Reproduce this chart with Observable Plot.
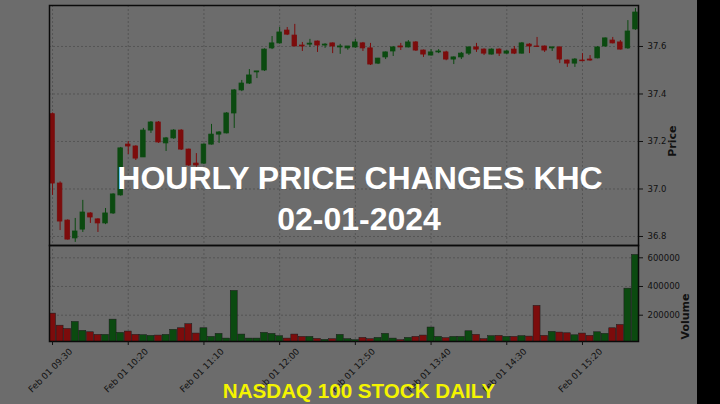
<!DOCTYPE html>
<html>
<head>
<meta charset="utf-8">
<script src="https://cdn.jsdelivr.net/npm/d3@7"></script>
<script src="https://cdn.jsdelivr.net/npm/@observablehq/plot@0.6"></script>
<style>
  html, body { margin: 0; padding: 0; background: #6c6c6c; }
  #wrap { position: relative; width: 720px; height: 404px; overflow: hidden; background: #6c6c6c; }
  #strip { position: absolute; left: 697px; top: 0; width: 23px; height: 404px; background: #000; }
</style>
</head>
<body>
<div id="wrap"></div>
<script>
// ---- data (5-minute candles, KHC, Feb 01 2024, 09:30 .. 15:55) ----
const opens  = [37.315,37.023,36.867,36.792,36.829,36.897,36.872,36.855,36.897,36.973,
                37.187,37.179,37.133,37.246,37.280,37.192,37.213,37.246,37.166,37.107,
                37.107,37.187,37.229,37.234,37.318,37.415,37.444,37.491,37.499,37.592,
                37.613,37.667,37.646,37.604,37.608,37.621,37.604,37.613,37.596,37.592,
                37.596,37.613,37.592,37.528,37.554,37.579,37.600,37.596,37.617,37.583,
                37.562,37.575,37.575,37.545,37.554,37.570,37.596,37.587,37.566,37.587,
                37.570,37.587,37.570,37.608,37.600,37.600,37.592,37.596,37.541,37.528,
                37.541,37.545,37.550,37.600,37.625,37.617,37.592,37.672];
const highs  = [37.320,37.030,36.870,36.876,36.952,36.900,36.875,36.918,36.980,37.175,
                37.200,37.182,37.255,37.284,37.284,37.217,37.250,37.250,37.168,37.149,
                37.190,37.272,37.242,37.322,37.419,37.457,37.503,37.495,37.590,37.642,
                37.680,37.680,37.693,37.617,37.630,37.623,37.612,37.615,37.609,37.600,
                37.630,37.617,37.613,37.550,37.577,37.600,37.613,37.625,37.621,37.585,
                37.587,37.587,37.580,37.556,37.575,37.598,37.613,37.590,37.590,37.590,
                37.583,37.600,37.617,37.612,37.638,37.602,37.598,37.598,37.543,37.549,
                37.570,37.562,37.600,37.636,37.638,37.625,37.709,37.760];
const lows   = [36.973,36.825,36.785,36.775,36.817,36.855,36.817,36.850,36.893,36.970,
                37.145,37.120,37.133,37.234,37.192,37.158,37.209,37.162,37.095,37.091,
                37.103,37.185,37.192,37.232,37.255,37.410,37.440,37.465,37.495,37.587,
                37.610,37.646,37.600,37.579,37.596,37.575,37.592,37.570,37.567,37.584,
                37.592,37.579,37.520,37.524,37.545,37.558,37.583,37.594,37.579,37.554,
                37.560,37.570,37.540,37.524,37.545,37.562,37.575,37.562,37.564,37.558,
                37.566,37.566,37.568,37.570,37.596,37.575,37.579,37.528,37.512,37.512,
                37.536,37.538,37.548,37.596,37.611,37.585,37.588,37.668];
const closes = [37.023,36.863,36.787,36.821,36.901,36.880,36.855,36.897,36.977,37.171,
                37.179,37.128,37.246,37.280,37.196,37.213,37.246,37.166,37.099,37.099,
                37.187,37.229,37.238,37.318,37.415,37.444,37.478,37.495,37.587,37.613,
                37.659,37.650,37.600,37.600,37.612,37.604,37.608,37.600,37.600,37.600,
                37.617,37.592,37.524,37.549,37.575,37.596,37.596,37.617,37.583,37.566,
                37.575,37.579,37.545,37.554,37.570,37.596,37.587,37.570,37.587,37.570,
                37.579,37.570,37.613,37.600,37.598,37.583,37.596,37.545,37.528,37.545,
                37.538,37.541,37.596,37.634,37.613,37.587,37.663,37.743];
const volumes = [211000,127000,104000,153000,91000,81000,63000,63000,169000,77000,
                 86000,63000,61000,56000,58000,63000,98000,109000,137000,72000,
                 109000,49000,70000,37000,369000,65000,37000,37000,77000,70000,
                 54000,37000,65000,49000,49000,35000,28000,33000,63000,33000,
                 26000,42000,33000,42000,70000,37000,26000,42000,49000,58000,
                 114000,49000,40000,49000,49000,88000,63000,33000,54000,56000,
                 49000,49000,54000,51000,265000,56000,84000,79000,74000,60000,
                 72000,56000,81000,70000,109000,132000,385000,620000];
const tickIdx = [0, 10, 20, 30, 40, 50, 60, 70];
const tickLabels = ["Feb 01 09:30","Feb 01 10:20","Feb 01 11:10","Feb 01 12:00",
                    "Feb 01 12:50","Feb 01 13:40","Feb 01 14:30","Feb 01 15:20"];
const priceTicks = [36.8, 37.0, 37.2, 37.4, 37.6];
const volumeTicks = [200000, 400000, 600000];

// ---- build table ----
const candles = opens.map((o, i) => ({
  i, open: o, high: highs[i], low: lows[i], close: closes[i], volume: volumes[i],
  up: closes[i] >= o
}));

const GREEN = "#0b4a10", RED = "#7c0c0c";
const GRID = "#555555";
const col = d => d.up ? GREEN : RED;
const baseStyle = {background: "transparent", color: "#111", fontFamily: "DejaVu Sans, sans-serif", fontSize: "8.5px", overflow: "visible"};
const xDomain = [-0.4, 77.4];

const price = Plot.plot({
  width: 720, height: 245,
  marginLeft: 49, marginRight: 82, marginTop: 5, marginBottom: 0,
  style: baseStyle,
  x: {domain: xDomain, axis: null},
  y: {domain: [36.7621, 37.7726]},
  color: {type: "identity"},
  marks: [
    Plot.gridX(tickIdx, {stroke: GRID, strokeOpacity: 1, strokeDasharray: "2,2"}),
    Plot.gridY(priceTicks, {stroke: GRID, strokeOpacity: 1, strokeDasharray: "2,2"}),
    Plot.ruleX(candles, {x: "i", y1: "low", y2: "high", stroke: col, strokeWidth: 1}),
    Plot.rect(candles, {x1: d => d.i - 0.3, x2: d => d.i + 0.3, y1: "open", y2: "close", fill: col, stroke: col, strokeWidth: 0.8}),
    Plot.frame({stroke: "#0a0a0a", strokeWidth: 1.5}),
    Plot.axisY(priceTicks, {anchor: "right", tickSize: 4, tickFormat: d => d.toFixed(1), label: null, fontSize: 8.5}),
    Plot.text(["Price"], {text: d => d, frameAnchor: "right", dx: 34, rotate: -90, fontWeight: "bold", fontSize: 11})
  ]
});

const volume = Plot.plot({
  width: 720, height: 159,
  marginLeft: 49, marginRight: 82, marginTop: 0, marginBottom: 63,
  style: baseStyle,
  x: {domain: xDomain},
  y: {domain: [16700, 685700]},
  color: {type: "identity"},
  marks: [
    Plot.gridX(tickIdx, {stroke: GRID, strokeOpacity: 1, strokeDasharray: "2,2"}),
    Plot.gridY(volumeTicks, {stroke: GRID, strokeOpacity: 1, strokeDasharray: "2,2"}),
    Plot.rect(candles, {x1: d => d.i - 0.46, x2: d => d.i + 0.46, y1: d => 0, y2: "volume", fill: col, stroke: "#1a1a1a", strokeWidth: 0.5, clip: true}),
    Plot.frame({stroke: "#0a0a0a", strokeWidth: 1.5}),
    Plot.axisY(volumeTicks, {anchor: "right", tickSize: 4, tickFormat: d => String(d), label: null, fontSize: 8.5}),
    Plot.axisX(tickIdx, {anchor: "bottom", tickSize: 4, tickFormat: () => "", label: null}),
    Plot.text(tickIdx, {x: d => d, text: (d, i) => tickLabels[i], frameAnchor: "bottom", dy: 31, rotate: -45, textAnchor: "middle", fontSize: 8.8}),
    Plot.text(["Volume"], {text: d => d, frameAnchor: "right", dx: 47, rotate: -90, fontWeight: "bold", fontSize: 11})
  ]
});

const wrap = document.getElementById("wrap");
price.style.position = "absolute"; price.style.top = "0px"; price.style.left = "0px";
volume.style.position = "absolute"; volume.style.top = "245px"; volume.style.left = "0px";
wrap.appendChild(price);
wrap.appendChild(volume);

const strip = document.createElement("div");
strip.id = "strip";
wrap.appendChild(strip);

// overlay texts
const ns = "http://www.w3.org/2000/svg";
const ov = document.createElementNS(ns, "svg");
ov.setAttribute("width", 720); ov.setAttribute("height", 404);
ov.style.position = "absolute"; ov.style.top = "0px"; ov.style.left = "0px";
const texts = [
  {t: "HOURLY PRICE CHANGES KHC", x: 360, y: 189, size: 32, fill: "#ffffff"},
  {t: "02-01-2024", x: 359, y: 230, size: 32, fill: "#ffffff"},
  {t: "NASDAQ 100 STOCK DAILY", x: 359, y: 398, size: 20.6, fill: "#f4f400"}
];
for (const d of texts) {
  const el = document.createElementNS(ns, "text");
  el.setAttribute("x", d.x); el.setAttribute("y", d.y);
  el.setAttribute("text-anchor", "middle");
  el.setAttribute("font-family", "Liberation Sans, Arial, sans-serif");
  el.setAttribute("font-weight", "bold");
  el.setAttribute("font-size", d.size);
  el.setAttribute("fill", d.fill);
  el.textContent = d.t;
  ov.appendChild(el);
}
wrap.appendChild(ov);
</script>
</body>
</html>
